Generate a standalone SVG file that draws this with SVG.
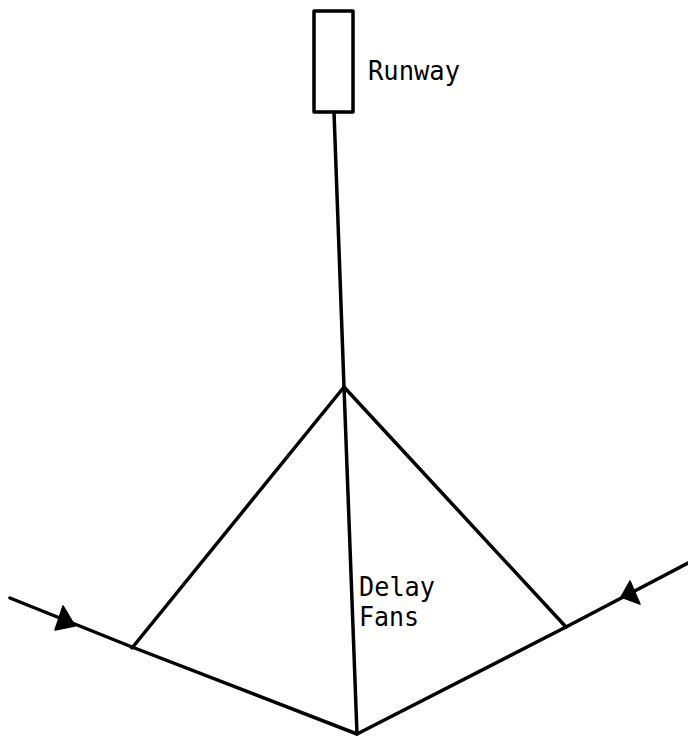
<svg xmlns="http://www.w3.org/2000/svg" width="688" height="736" viewBox="0 0 688 736">
<style>
.ln{fill:none;stroke:#000;stroke-width:3.5;stroke-linecap:round;stroke-linejoin:round}
.lbl{font-family:"DejaVu Sans Mono","Liberation Mono",monospace;font-size:27px;fill:#000}
.ah{fill:#000;stroke:#000;stroke-width:1.5;stroke-linejoin:round}
</style>
<rect width="688" height="736" fill="#fff"/>
<g id="runway">
<rect x="314" y="11" width="39" height="101" class="ln"/>
<text x="368" y="80" class="lbl" textLength="92" lengthAdjust="spacingAndGlyphs">Runway</text>
</g>
<g id="delay-fans">
<text x="359" y="596" class="lbl" textLength="76" lengthAdjust="spacingAndGlyphs">Delay</text>
<text x="359" y="626" class="lbl" textLength="60" lengthAdjust="spacingAndGlyphs">Fans</text>
</g>
<g id="connectors">
<polyline class="ln" points="334,112 344,387 357,734"/>
<polyline class="ln" points="132,648 344,387 566,627"/>
<polyline class="ln" points="10,598 132,647 357,734 566,627 688,563"/>
<polygon class="ah" points="63,606 55,630 75,626"/>
<polygon class="ah" points="630,581 621,597 640,604"/>
</g>
</svg>
